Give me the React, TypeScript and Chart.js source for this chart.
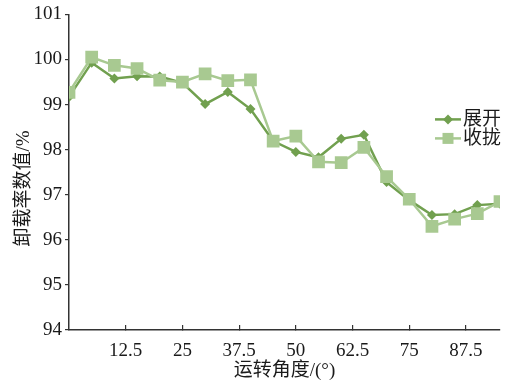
import React, { useEffect, useRef } from "react";
import { Chart, registerables } from "chart.js";

Chart.register(...registerables);

const angles = [0, 5, 10, 15, 20, 25, 30, 35, 40, 45, 50, 55, 60, 65, 70, 75, 80, 85, 90, 95];
const unfoldValues = [99.17, 99.93, 99.58, 99.63, 99.62, 99.48, 99.01, 99.28, 98.9, 98.19, 97.95, 97.83, 98.24, 98.33, 97.28, 96.88, 96.55, 96.57, 96.77, 96.8];
const foldValues = [99.27, 100.05, 99.87, 99.8, 99.54, 99.5, 99.68, 99.53, 99.55, 98.19, 98.3, 97.73, 97.71, 98.05, 97.4, 96.9, 96.3, 96.46, 96.58, 96.85];
const seriesNames = ["展开", "收拢"];
const yTitle = "卸载率数值/%";
const xTitle = "运转角度/(°)";

const DARK = "#71a04f";
const LIGHT = "#a8c991";
const FONT = "'Liberation Serif', 'Noto Sans CJK SC', serif";
const TEXT = "#1a1a1a";
const AXIS = "#333333";

const overlayPlugin = {
  id: "overlay",
  afterDraw(chart: any) {
    const { ctx, chartArea } = chart;
    ctx.save();
    // y title
    ctx.font = `19px ${FONT}`;
    ctx.fillStyle = TEXT;
    ctx.textAlign = "center";
    ctx.textBaseline = "middle";
    ctx.translate(24, chartArea.top + 174);
    ctx.rotate(-Math.PI / 2);
    ctx.fillText(yTitle, 0, 0);
    ctx.restore();

    // legend
    ctx.save();
    const x0 = chartArea.right - 65;
    const rows = [chartArea.top + 105, chartArea.top + 124];
    const colors = [DARK, LIGHT];
    rows.forEach((y, i) => {
      ctx.strokeStyle = colors[i];
      ctx.lineWidth = 2.5;
      ctx.beginPath();
      ctx.moveTo(x0, y);
      ctx.lineTo(x0 + 26, y);
      ctx.stroke();
      ctx.fillStyle = colors[i];
      ctx.beginPath();
      if (i === 0) {
        const r = 5;
        ctx.moveTo(x0 + 13, y - r);
        ctx.lineTo(x0 + 13 + r, y);
        ctx.lineTo(x0 + 13, y + r);
        ctx.lineTo(x0 + 13 - r, y);
        ctx.closePath();
      } else {
        ctx.rect(x0 + 13 - 5.5, y - 5.5, 11, 11);
      }
      ctx.fill();
      ctx.fillStyle = TEXT;
      ctx.font = `19px ${FONT}`;
      ctx.textAlign = "left";
      ctx.textBaseline = "middle";
      ctx.fillText(seriesNames[i], x0 + 28, y + 1);
    });
    ctx.restore();
  },
};

export default function App() {
  const ref = useRef<HTMLCanvasElement>(null);
  useEffect(() => {
    if (!ref.current) return;
    const chart = new Chart(ref.current, {
      type: "line",
      data: {
        datasets: [
          {
            label: seriesNames[0],
            data: angles.map((a, i) => ({ x: a, y: unfoldValues[i] })),
            borderColor: DARK,
            backgroundColor: DARK,
            borderWidth: 2.5,
            pointStyle: "rectRot",
            pointRadius: 5,
            pointBorderWidth: 0,
            order: 1,
          },
          {
            label: seriesNames[1],
            data: angles.map((a, i) => ({ x: a, y: foldValues[i] })),
            borderColor: LIGHT,
            backgroundColor: LIGHT,
            borderWidth: 2.5,
            pointStyle: "rect",
            pointRadius: 9,
            pointBorderWidth: 0,
            order: 0,
          },
        ],
      },
      options: {
        animation: false,
        responsive: true,
        maintainAspectRatio: false,
        layout: { padding: { top: 14, right: 9, left: 0, bottom: 0 } },
        plugins: { legend: { display: false }, tooltip: { enabled: false } },
        scales: {
          x: {
            type: "linear",
            min: 0,
            max: 95,
            afterBuildTicks: (s: any) => {
              s.ticks = s.ticks.filter((t: any) => t.value > 0 && t.value % 12.5 === 0);
            },
            afterFit: (s: any) => {
              s.height = 59;
            },
            ticks: {
              stepSize: 12.5,
              autoSkip: false,
              maxRotation: 0,
              padding: 15,
              color: TEXT,
              font: { family: FONT, size: 19 },
            },
            grid: { drawOnChartArea: false, tickLength: -5, color: AXIS, lineWidth: 1.2 },
            border: { color: AXIS, width: 1.5 },
            title: {
              display: true,
              text: xTitle,
              color: TEXT,
              font: { family: FONT, size: 19 },
              padding: { top: 0, bottom: 7 },
            },
          },
          y: {
            min: 94,
            max: 101,
            afterFit: (s: any) => {
              s.width = 69;
            },
            ticks: {
              stepSize: 1,
              padding: 3,
              color: TEXT,
              font: { family: FONT, size: 19 },
            },
            grid: { drawOnChartArea: false, tickLength: 4, color: AXIS, lineWidth: 1.2 },
            border: { color: AXIS, width: 1.5 },
          },
        },
      },
      plugins: [overlayPlugin],
    });
    return () => chart.destroy();
  }, []);
  return (
    <div style={{ position: "fixed", left: 0, top: 0, width: 509, height: 389, background: "#fff" }}>
      <canvas ref={ref} />
    </div>
  );
}
